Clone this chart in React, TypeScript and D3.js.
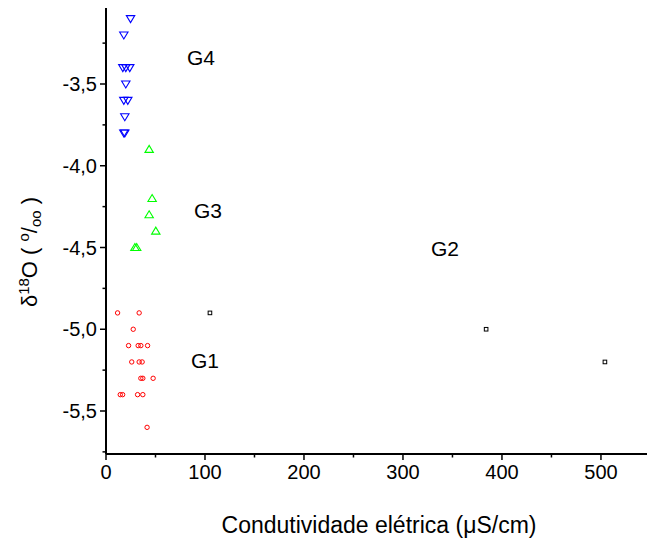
import React from "react";
import * as d3 from "d3";

const g4X = [24.8, 18, 17, 20, 24, 20, 18, 22, 19, 18, 19];
const g4Y = [-3.1, -3.2, -3.4, -3.4, -3.4, -3.5, -3.6, -3.6, -3.7, -3.8, -3.8];

const g3X = [43.6, 46.6, 43.6, 50.3, 29.2, 31];
const g3Y = [-3.9, -4.2, -4.3, -4.4, -4.5, -4.5];

const g1X = [11.7, 33.5, 27.5, 22.8, 32.5, 35.2, 42, 26, 33.5, 36.5, 35.2, 37.2, 47.6, 14.4, 16.8, 31.9, 37.2, 41.5];
const g1Y = [-4.9, -4.9, -5.0, -5.1, -5.1, -5.1, -5.1, -5.2, -5.2, -5.2, -5.3, -5.3, -5.3, -5.4, -5.4, -5.4, -5.4, -5.6];

const g2X = [105, 384, 504];
const g2Y = [-4.9, -5.0, -5.2];

const xTicks = [0, 100, 200, 300, 400, 500];
const xMinor = [50, 150, 250, 350, 450];
const yTicks = [-3.5, -4.0, -4.5, -5.0, -5.5];
const yMinor = [-3.25, -3.75, -4.25, -4.75, -5.25, -5.75];

const groupLabels = [
  { t: "G4", x: 201, y: 65 },
  { t: "G3", x: 208, y: 218 },
  { t: "G2", x: 445, y: 256 },
  { t: "G1", x: 205, y: 368 },
];

const FONT = "'Liberation Sans', Arial, sans-serif";

export default function App() {
  const x = d3.scaleLinear().domain([0, 545]).range([106, 645.5]);
  const y = d3.scaleLinear().domain([-5.5, -3.5]).range([411, 84]);
  const axisY0 = 454;
  const axisX0 = 106;
  const fmt = (v: number) => v.toFixed(1).replace(".", ",");

  const down = (cx: number, cy: number) => {
    const s = 4.2;
    return `M${cx - s},${cy - 3} L${cx + s},${cy - 3} L${cx},${cy + 4} Z`;
  };
  const up = (cx: number, cy: number) => {
    const s = 4.2;
    return `M${cx - s},${cy + 3} L${cx + s},${cy + 3} L${cx},${cy - 4} Z`;
  };

  return (
    <svg width={647} height={545} style={{ position: "absolute", left: 0, top: 0, background: "#fff" }} fontFamily={FONT}>
      <rect width={647} height={545} fill="#fff" />
      <line x1={axisX0} x2={axisX0} y1={8} y2={axisY0} stroke="#000" strokeWidth={2} />
      <line x1={axisX0} x2={647} y1={axisY0} y2={axisY0} stroke="#000" strokeWidth={2} />
      {xTicks.map((t) => (
        <g key={"xt" + t}>
          <line x1={x(t)} x2={x(t)} y1={axisY0} y2={axisY0 + 6} stroke="#000" strokeWidth={1.5} />
          <text x={x(t)} y={479} fontSize={20} textAnchor="middle">{t}</text>
        </g>
      ))}
      {xMinor.map((t) => (
        <line key={"xm" + t} x1={x(t)} x2={x(t)} y1={axisY0} y2={axisY0 + 3.5} stroke="#000" strokeWidth={1.5} />
      ))}
      {yTicks.map((t) => (
        <g key={"yt" + t}>
          <line x1={axisX0 - 6} x2={axisX0} y1={y(t)} y2={y(t)} stroke="#000" strokeWidth={1.5} />
          <text x={97} y={y(t) + 7} fontSize={20} textAnchor="end">{fmt(t)}</text>
        </g>
      ))}
      {yMinor.map((t) => (
        <line key={"ym" + t} x1={axisX0 - 3.5} x2={axisX0} y1={y(t)} y2={y(t)} stroke="#000" strokeWidth={1.5} />
      ))}
      <text x={379} y={533} fontSize={23} textAnchor="middle">Condutividade elétrica (μS/cm)</text>
      <text transform="translate(37,252) rotate(-90)" fontSize={22} textAnchor="middle">
        <tspan>δ</tspan>
        <tspan fontSize={15} dy={-8}>18</tspan>
        <tspan dy={8}>O ( </tspan>
        <tspan fontSize={15} dy={-8}>o</tspan>
        <tspan dy={8}>/</tspan>
        <tspan fontSize={15} dy={4}>oo</tspan>
        <tspan dy={-4}> )</tspan>
      </text>
      {groupLabels.map((g) => (
        <text key={g.t} x={g.x} y={g.y} fontSize={21} textAnchor="middle">{g.t}</text>
      ))}
      {g4X.map((v, i) => (
        <path key={"g4" + i} d={down(x(v), y(g4Y[i]))} fill="none" stroke="#0000ff" strokeWidth={1.1} />
      ))}
      {g3X.map((v, i) => (
        <path key={"g3" + i} d={up(x(v), y(g3Y[i]))} fill="none" stroke="#00ff00" strokeWidth={1.1} />
      ))}
      {g1X.map((v, i) => (
        <circle key={"g1" + i} cx={x(v)} cy={y(g1Y[i])} r={2.2} fill="none" stroke="#ff0000" strokeWidth={1} />
      ))}
      {g2X.map((v, i) => (
        <rect key={"g2" + i} x={x(v) - 1.8} y={y(g2Y[i]) - 1.8} width={3.6} height={3.6} fill="none" stroke="#000" strokeWidth={1} />
      ))}
    </svg>
  );
}
